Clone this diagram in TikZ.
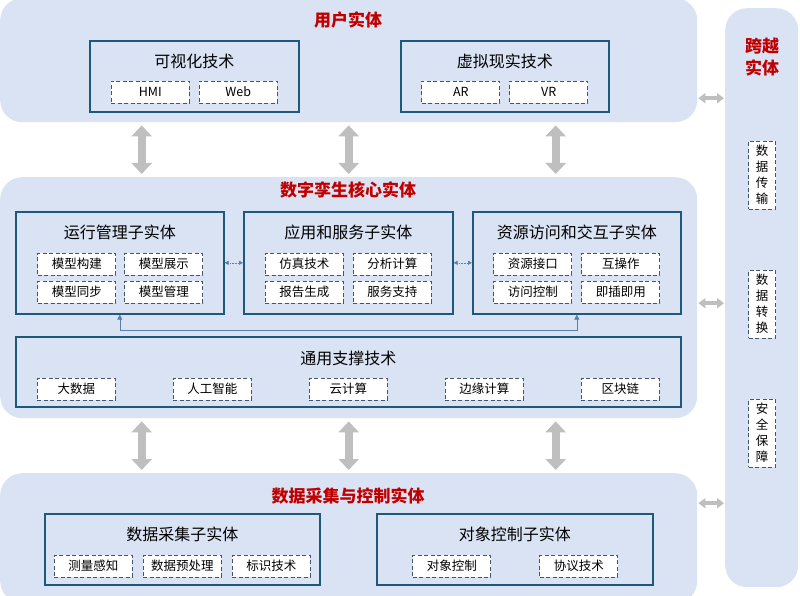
\documentclass[tikz,border=0pt]{standalone}
\usepackage{fontspec}
\setmainfont{Noto Sans CJK SC}
\usetikzlibrary{arrows.meta,positioning,calc}

\definecolor{painel}{HTML}{DAE3F3}
\definecolor{borda}{RGB}{30,88,122}
\definecolor{tracejado}{HTML}{44546A}
\definecolor{cinza}{HTML}{BFBFBF}
\definecolor{ligacao}{HTML}{5B7FA8}
\definecolor{vermelho}{HTML}{C00000}

\begin{document}
\begin{tikzpicture}[
        x=1pt, y=-1pt,
        % Estilo para os painéis de fundo
        panel style/.style = {
            fill=painel,
            rectangle,
            rounded corners=22pt,
            anchor=north west,
            inner sep=0pt
        },
        % Estilo para os subpainéis
        sub box/.style = {
            draw=borda,
            line width=1.6pt,
            fill=painel,
            rectangle,
            anchor=north west,
            inner sep=0pt
        },
        % Estilo para os itens tracejados
        item box/.style = {
            draw=tracejado,
            line width=0.8pt,
            dash pattern=on 4pt off 2.5pt,
            fill=white,
            minimum width=78pt,
            minimum height=22pt,
            inner sep=0pt,
            font=\fontsize{12.5}{14}\selectfont
        },
        % Estilo das setas grandes
        big arrow/.style = {
            draw=cinza,
            line width=8pt,
            {Triangle[width=20pt,length=11pt]}-{Triangle[width=20pt,length=11pt]},
            shorten <=3pt, shorten >=3pt
        },
        % Estilo das setas laterais
        side arrow/.style = {
            draw=cinza,
            line width=3.5pt,
            {Triangle[width=10pt,length=7pt]}-{Triangle[width=10pt,length=7pt]},
            shorten <=1pt, shorten >=1pt
        }
    ]
    \tikzset{
        panel title/.style={text=vermelho, font=\fontsize{17}{22}\selectfont\bfseries},
        sub title/.style={font=\fontsize{16}{18}\selectfont},
        side box/.style={item box, minimum width=27pt, minimum height=68pt, align=center,
            font=\fontsize{12.5}{16}\selectfont},
        link arrow/.style={draw=ligacao, line width=0.6pt, densely dotted,
            {Triangle[width=4pt,length=4pt]}-{Triangle[width=4pt,length=4pt]}},
        feed arrow/.style={draw=ligacao, line width=0.6pt,
            {Triangle[width=5pt,length=5pt]}-{Triangle[width=5pt,length=5pt]}}
    }
    \useasboundingbox (0,0) rectangle (800,596);

    % Painel do usuário
    \node[panel style, minimum width=697pt, minimum height=124pt] (user) at (0,-2) {};
    \node[panel title] (usertitle) at (348,20) {用户实体};
    \node[sub box, minimum width=209pt, minimum height=71pt] (vis) at (89,40) {};
    \node[sub title] at ([yshift=-21pt]vis.north) {可视化技术};
    \node[item box] (hmi) at ([xshift=-44pt,yshift=-52pt]vis.north) {HMI};
    \node[item box] (web) at ([xshift=44pt,yshift=-52pt]vis.north) {Web};
    \node[sub box, minimum width=208pt, minimum height=71pt] (vr) at (400,40) {};
    \node[sub title] at ([yshift=-21pt]vr.north) {虚拟现实技术};
    \node[item box] (ar) at ([xshift=-44pt,yshift=-52pt]vr.north) {AR};
    \node[item box] (vrt) at ([xshift=44pt,yshift=-52pt]vr.north) {VR};

    % Painel do núcleo
    \node[panel style, minimum width=697pt, minimum height=241pt] (core) at (0,177) {};
    \node[panel title] (coretitle) at (348,190) {数字孪生核心实体};

    \node[sub box, minimum width=208pt, minimum height=102pt] (run) at (15,211) {};
    \node[sub title] at ([yshift=-21pt]run.north) {运行管理子实体};
    \node[item box] (run1) at ([xshift=-43pt,yshift=-53pt]run.north) {模型构建};
    \node[item box] (run2) at ([xshift=44pt,yshift=-53pt]run.north) {模型展示};
    \node[item box] (run3) at ([xshift=-43pt,yshift=-81pt]run.north) {模型同步};
    \node[item box] (run4) at ([xshift=44pt,yshift=-81pt]run.north) {模型管理};

    \node[sub box, minimum width=209pt, minimum height=102pt] (app) at (243,211) {};
    \node[sub title] at ([yshift=-21pt]app.north) {应用和服务子实体};
    \node[item box] (app1) at ([xshift=-44pt,yshift=-53pt]app.north) {仿真技术};
    \node[item box] (app2) at ([xshift=44pt,yshift=-53pt]app.north) {分析计算};
    \node[item box] (app3) at ([xshift=-44pt,yshift=-81pt]app.north) {报告生成};
    \node[item box] (app4) at ([xshift=44pt,yshift=-81pt]app.north) {服务支持};

    \node[sub box, minimum width=208pt, minimum height=102pt] (res) at (472,211) {};
    \node[sub title] at ([yshift=-21pt]res.north) {资源访问和交互子实体};
    \node[item box] (res1) at ([xshift=-44pt,yshift=-53pt]res.north) {资源接口};
    \node[item box] (res2) at ([xshift=44pt,yshift=-53pt]res.north) {互操作};
    \node[item box] (res3) at ([xshift=-44pt,yshift=-81pt]res.north) {访问控制};
    \node[item box] (res4) at ([xshift=44pt,yshift=-81pt]res.north) {即插即用};

    \draw[link arrow] (run.east) -- (app.west);
    \draw[link arrow] (app.east) -- (res.west);
    \draw[feed arrow] (run.south) -- ++(0,16) -| (res.south);

    \node[sub box, minimum width=665pt, minimum height=70pt] (gen) at (15,336) {};
    \node[sub title] at ([yshift=-22pt]gen.north) {通用支撑技术};
    \foreach \k/\txt in {-2/大数据, -1/人工智能, 0/云计算, 1/边缘计算, 2/区块链}
        \node[item box] (gen\k) at ([xshift=\k*136pt,yshift=-53pt]gen.north) {\txt};

    % Painel de aquisição e controle
    \node[panel style, minimum width=697pt, minimum height=130pt] (acqpanel) at (0,473) {};
    \node[panel title] (acqtitle) at (348,496) {数据采集与控制实体};
    \node[sub box, minimum width=275pt, minimum height=71pt] (acq) at (44,513) {};
    \node[sub title] at ([yshift=-21pt]acq.north) {数据采集子实体};
    \node[item box] (acq1) at ([xshift=-89pt,yshift=-53pt]acq.north) {测量感知};
    \node[item box] (acq2) at ([yshift=-53pt]acq.north) {数据预处理};
    \node[item box] (acq3) at ([xshift=89pt,yshift=-53pt]acq.north) {标识技术};
    \node[sub box, minimum width=276pt, minimum height=71pt] (obj) at (376,513) {};
    \node[sub title] at ([yshift=-21pt]obj.north) {对象控制子实体};
    \node[item box] (obj1) at ([xshift=-63pt,yshift=-53pt]obj.north) {对象控制};
    \node[item box] (obj2) at ([xshift=64pt,yshift=-53pt]obj.north) {协议技术};

    % Painel transversal
    \node[panel style, minimum width=73pt, minimum height=579pt] (cross) at (725,8) {};
    \node[panel title, align=center] (crosstitle) at (762,57) {跨越\\实体};
    \node[side box] (trans) at (762,175) {数\\据\\传\\输};
    \node[side box] (conv) at (762,304) {数\\据\\转\\换};
    \node[side box] (safe) at (762,433) {安\\全\\保\\障};

    % Setas entre os painéis
    \foreach \dx in {-207,0,207} {
        \draw[big arrow] ([xshift=\dx pt]user.south) -- ([xshift=\dx pt]core.north);
        \draw[big arrow] ([xshift=\dx pt]core.south) -- ([xshift=\dx pt]acqpanel.north);
    }
    \coordinate (ux) at ([yshift=-38pt]user.east);
    \coordinate (cx) at ([yshift=-5.5pt]core.east);
    \coordinate (ax) at ([yshift=35pt]acqpanel.east);
    \draw[side arrow] (ux) -- (ux -| cross.west);
    \draw[side arrow] (cx) -- (cx -| cross.west);
    \draw[side arrow] (ax) -- (ax -| cross.west);
\end{tikzpicture}
\end{document}
